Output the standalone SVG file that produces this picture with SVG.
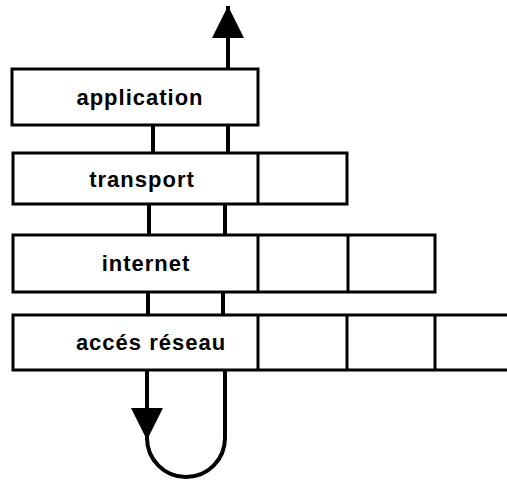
<svg xmlns="http://www.w3.org/2000/svg" width="507" height="483" viewBox="0 0 507 483">
  <style>
    .box { fill: #fff; stroke: #000; stroke-width: 3; }
    .div { stroke: #000; stroke-width: 3; }
    .lbl { font-family: "Liberation Sans", Arial, sans-serif; font-weight: bold; font-size: 22px; fill: #000; text-anchor: middle; letter-spacing: 1px; }
    .flow { fill: none; stroke: #000; stroke-width: 4; }
  </style>
  <defs>
    <marker id="head" markerUnits="userSpaceOnUse" markerWidth="34" markerHeight="34" refX="32" refY="16" orient="auto">
      <path d="M0,0 L32,16 L0,32 z" fill="#000"/>
    </marker>
  </defs>
  <rect width="507" height="483" fill="#fff"/>

  <!-- vertical flow through the stack -->
  <g id="connectors">
    <path class="flow" d="M228 69 V6" marker-end="url(#head)"/>
    <path class="flow" d="M153 125 V153 M228 125 V153"/>
    <path class="flow" d="M149 204 V235 M225 204 V235"/>
    <path class="flow" d="M148 292 V315 M223 292 V315"/>
    <path class="flow" d="M147 370 V440" marker-end="url(#head)"/>
    <path class="flow" d="M147 438 A39 39 0 0 0 225 438 V370"/>
  </g>

  <g id="application">
    <rect class="box" x="12" y="69" width="246" height="56"/>
    <text class="lbl" x="140" y="105">application</text>
  </g>

  <g id="transport">
    <rect class="box" x="13" y="153" width="334" height="51"/>
    <line class="div" x1="258" y1="153" x2="258" y2="204"/>
    <text class="lbl" x="142" y="187">transport</text>
  </g>

  <g id="internet">
    <rect class="box" x="13" y="235" width="422" height="57"/>
    <line class="div" x1="258" y1="235" x2="258" y2="292"/>
    <line class="div" x1="348" y1="235" x2="348" y2="292"/>
    <text class="lbl" x="146" y="271">internet</text>
  </g>

  <g id="acces-reseau">
    <path class="box" d="M510 315 H13 V370 H510"/>
    <line class="div" x1="258" y1="315" x2="258" y2="370"/>
    <line class="div" x1="347" y1="315" x2="347" y2="370"/>
    <line class="div" x1="435" y1="315" x2="435" y2="370"/>
    <text class="lbl" x="151" y="350">accés réseau</text>
  </g>
</svg>
